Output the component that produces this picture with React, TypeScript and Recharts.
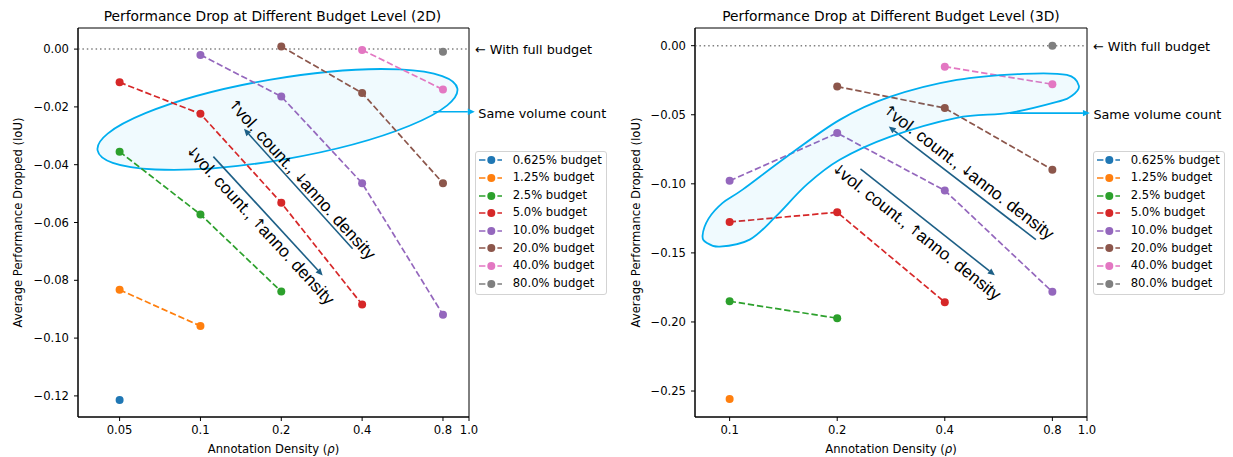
import React from 'react';
import { LineChart, Line, XAxis, YAxis, ReferenceLine, ReferenceArea, Legend } from 'recharts';

const FONT = "'DejaVu Sans', sans-serif";
const NOTE_FONT = "'Liberation Sans', Arial, sans-serif";

// ---------- data ----------
const BUDGET_LABELS = ['0.625% budget', '1.25% budget', '2.5% budget', '5.0% budget', '10.0% budget', '20.0% budget', '40.0% budget', '80.0% budget'];
const BUDGET_COLORS = ['#1f77b4', '#ff7f0e', '#2ca02c', '#d62728', '#9467bd', '#8c564b', '#e377c2', '#7f7f7f'];

const DENSITY_2D = [[0.05], [0.05, 0.1], [0.05, 0.1, 0.2], [0.05, 0.1, 0.2, 0.4], [0.1, 0.2, 0.4, 0.8], [0.2, 0.4, 0.8], [0.4, 0.8], [0.8]];
const DROP_2D = [
  [-0.1214],
  [-0.0833, -0.0958],
  [-0.0355, -0.0572, -0.0839],
  [-0.0115, -0.0224, -0.0532, -0.0884],
  [-0.0020, -0.0164, -0.0464, -0.0919],
  [0.0009, -0.0152, -0.0464],
  [-0.0003, -0.0140],
  [-0.0009],
];

const DENSITY_3D = [[], [0.1], [0.1, 0.2], [0.1, 0.2, 0.4], [0.1, 0.2, 0.4, 0.8], [0.2, 0.4, 0.8], [0.4, 0.8], [0.8]];
const DROP_3D = [
  [],
  [-0.2558],
  [-0.1850, -0.1973],
  [-0.1276, -0.1206, -0.1857],
  [-0.0978, -0.0633, -0.1048, -0.1782],
  [-0.0296, -0.0452, -0.0898],
  [-0.0152, -0.0279],
  [0.0],
];

const X_TICKS_2D = [0.05, 0.1, 0.2, 0.4, 0.8, 1.0];
const X_LABELS_2D = ['0.05', '0.1', '0.2', '0.4', '0.8', '1.0'];
const X_TICKS_3D = [0.1, 0.2, 0.4, 0.8, 1.0];
const X_LABELS_3D = ['0.1', '0.2', '0.4', '0.8', '1.0'];
const Y_TICKS_2D = [0, -0.02, -0.04, -0.06, -0.08, -0.1, -0.12];
const Y_LABELS_2D = ['0.00', '\u22120.02', '\u22120.04', '\u22120.06', '\u22120.08', '\u22120.10', '\u22120.12'];
const Y_TICKS_3D = [0, -0.05, -0.1, -0.15, -0.2, -0.25];
const Y_LABELS_3D = ['0.00', '\u22120.05', '\u22120.10', '\u22120.15', '\u22120.20', '\u22120.25'];

const X_DOMAIN_2D = [0.035, 1.0];
const Y_DOMAIN_2D = [-0.1273, 0.0073];
const X_DOMAIN_3D = [0.08, 1.0];
const Y_DOMAIN_3D = [-0.2688, 0.0128];

const TITLE_2D = 'Performance Drop at Different Budget Level (2D)';
const TITLE_3D = 'Performance Drop at Different Budget Level (3D)';
// annotation text parts: [arrow, words, arrow, words]
const TEXT_UP = ['\u2191', 'vol. count., ', '\u2193', 'anno. density'];
const TEXT_DOWN = ['\u2193', 'vol. count., ', '\u2191', 'anno. density'];

// annotations (data coordinates)
const ELLIPSE_2D = { from: { x: 0.0414, y: -0.03506 }, to: { x: 0.905, y: -0.01364 } };
const ARROWS_2D = [
  { tail: { x: 0.3687, y: -0.0691 }, head: { x: 0.1453, y: -0.0276 }, text: TEXT_UP, offset: 9.5, along: -4 },
  { tail: { x: 0.1117, y: -0.0372 }, head: { x: 0.2852, y: -0.0783 }, text: TEXT_DOWN, offset: -11.5, along: 2 },
];
const SAME_2D = { tail: { x: 0.7356, y: -0.02166 }, head: { x: 1.051, y: -0.02166 } };

const BANANA_X_3D = [0.084, 0.0873, 0.0956, 0.1087, 0.1444, 0.2032, 0.2806, 0.4322, 0.6615, 0.8783, 0.9491, 0.9072, 0.8235, 0.6082, 0.4322, 0.2806, 0.2032, 0.1643, 0.1345, 0.1138, 0.0938, 0.0862];
const BANANA_Y_3D = [-0.1375, -0.1252, -0.1138, -0.1042, -0.0804, -0.0537, -0.0371, -0.0248, -0.0204, -0.0212, -0.0291, -0.0363, -0.0407, -0.0486, -0.0522, -0.066, -0.0826, -0.1006, -0.1238, -0.1404, -0.1455, -0.1426];
const ARROWS_3D = [
  { tail: { x: 0.7194, y: -0.1404 }, head: { x: 0.2788, y: -0.0585 }, text: TEXT_UP, offset: 13, along: -1 },
  { tail: { x: 0.2323, y: -0.0891 }, head: { x: 0.5522, y: -0.1662 }, text: TEXT_DOWN, offset: -14, along: -2 },
];
const SAME_3D = { tail: { x: 0.6083, y: -0.0488 }, head: { x: 1.019, y: -0.0488 } };

// ---------- styles ----------
const CYAN = '#00aeef';
const TEAL = '#1d5f86';
const DASH = '6.4 2.8';

const buildSeries = (xs: number[][], ys: number[][]) =>
  xs.map((row, i) => row.map((x, j) => ({ x, y: ys[i][j] })));

const fmt = (ticks: number[], labels: string[]) => (v: number) => {
  const i = ticks.findIndex((t) => Math.abs(t - v) < 1e-9);
  return i >= 0 ? labels[i] : String(v);
};

function closedSmoothPath(pts: { x: number; y: number }[]) {
  const n = pts.length;
  let d = `M${pts[0].x},${pts[0].y}`;
  for (let i = 0; i < n; i++) {
    const p0 = pts[(i - 1 + n) % n];
    const p1 = pts[i];
    const p2 = pts[(i + 1) % n];
    const p3 = pts[(i + 2) % n];
    const c1x = p1.x + (p2.x - p0.x) / 6;
    const c1y = p1.y + (p2.y - p0.y) / 6;
    const c2x = p2.x - (p3.x - p1.x) / 6;
    const c2y = p2.y - (p3.y - p1.y) / 6;
    d += ` C${c1x},${c1y} ${c2x},${c2y} ${p2.x},${p2.y}`;
  }
  return d + 'Z';
}

const ellipseShape = (minor: number) => (p: any) => {
  const { x1, y1, x2, y2 } = p;
  const cx = (x1 + x2) / 2;
  const cy = (y1 + y2) / 2;
  const rx = Math.hypot(x2 - x1, y2 - y1) / 2;
  const ang = (Math.atan2(y2 - y1, x2 - x1) * 180) / Math.PI;
  return (
    <ellipse cx={cx} cy={cy} rx={rx} ry={minor} transform={`rotate(${ang} ${cx} ${cy})`}
      fill="rgba(0,170,235,0.06)" stroke={CYAN} strokeWidth={1.8} />
  );
};

const ArrowGlyph = ({ ch }: { ch: string }) => (
  <tspan fontFamily={FONT} fontSize={14.5} dx={-1}>{ch}</tspan>
);

const arrowShape = (color: string, text?: string[], offset = 0, along = 0) => (p: any) => {
  const { x1, y1, x2, y2 } = p;
  const dx = x2 - x1;
  const dy = y2 - y1;
  const L = Math.hypot(dx, dy);
  const ux = dx / L;
  const uy = dy / L;
  const hl = 7;
  const hw = 3.2;
  const bx = x2 - ux * hl;
  const by = y2 - uy * hl;
  let label = null;
  if (text) {
    const tx = dx < 0 ? -ux : ux;
    const ty = dx < 0 ? -uy : uy;
    const nx = ty;
    const ny = -tx;
    const mx = (x1 + x2) / 2 + offset * nx + along * tx;
    const my = (y1 + y2) / 2 + offset * ny + along * ty;
    const ang = (Math.atan2(ty, tx) * 180) / Math.PI;
    label = (
      <text x={mx} y={my} textAnchor="middle" dominantBaseline="central" fontFamily={NOTE_FONT}
        fontSize={17.2} fill="#000" transform={`rotate(${ang} ${mx} ${my})`}>
        <ArrowGlyph ch={text[0]} />
        <tspan dx={-1.5}>{text[1]}</tspan>
        <ArrowGlyph ch={text[2]} />
        <tspan dx={-1.5}>{text[3]}</tspan>
      </text>
    );
  }
  return (
    <g>
      <line x1={x1} y1={y1} x2={bx} y2={by} stroke={color} strokeWidth={1.6} />
      <polygon points={`${x2},${y2} ${bx - uy * hw},${by + ux * hw} ${bx + uy * hw},${by - ux * hw}`} fill={color} />
      {label}
    </g>
  );
};

const sameShape = (p: any) => {
  const { x2, y2 } = p;
  return (
    <g>
      {arrowShape(CYAN)(p)}
      <text x={x2 + 3.5} y={y2 + 1.5} dominantBaseline="central" fontFamily={FONT} fontSize={12.8} fill="#000">Same volume count</text>
    </g>
  );
};

const zeroShape = (p: any) => (
  <g>
    <line x1={p.x1} y1={p.y1} x2={p.x2} y2={p.y2} stroke="#808080" strokeWidth={1.5} strokeDasharray="1.5 2.9" />
    <text x={p.x2 + 6} y={p.y1 + 0.5} dominantBaseline="central" fontFamily={FONT} fontSize={12.8} fill="#000">{'\u2190 With full budget'}</text>
  </g>
);

const bananaDot = (p: any) => {
  if (p.index !== 0 || !p.points) return <g key={`b-${p.index}`} />;
  const pts = p.points.map((q: any) => ({ x: q.x, y: q.y }));
  return (
    <path key="banana" d={closedSmoothPath(pts)} fill="rgba(0,170,235,0.06)" stroke={CYAN} strokeWidth={1.8} />
  );
};

const LegendBox = () => (
  <div style={{ boxSizing: 'border-box', width: 132, height: 144, border: '1px solid #d3d3d3', borderRadius: 3, background: 'rgba(255,255,255,0.85)', fontFamily: FONT, fontSize: 11.6, color: '#000' }}>
    {BUDGET_LABELS.map((label, i) => (
      <div key={label} style={{ position: 'relative', height: 17.6 }}>
        <svg width={25} height={10} style={{ position: 'absolute', left: 3.7, top: 3.8 }}>
          <line x1={0} y1={5} x2={23} y2={5} stroke={BUDGET_COLORS[i]} strokeWidth={1.7} strokeDasharray={DASH} />
          <circle cx={12.3} cy={5} r={4} fill={BUDGET_COLORS[i]} />
        </svg>
        <span style={{ position: 'absolute', left: 37, top: 0, lineHeight: '17.6px', whiteSpace: 'nowrap' }}>{label}</span>
      </div>
    ))}
  </div>
);

type PanelProps = {
  width: number;
  yAxisWidth: number;
  yLabelX: number;
  xDomain: number[];
  yDomain: number[];
  xTicks: number[];
  xLabels: string[];
  yTicks: number[];
  yLabels: string[];
  series: { x: number; y: number }[][];
  arrows: typeof ARROWS_2D;
  same: typeof SAME_2D;
  ellipse?: typeof ELLIPSE_2D;
  banana?: { x: number; y: number }[];
};

function Panel(props: PanelProps) {
  const { width, yAxisWidth, yLabelX, xDomain, yDomain, xTicks, xLabels, yTicks, yLabels, series, arrows, same, ellipse, banana } = props;
  const tickStyle = { fontSize: 11.6, fill: '#000', fontFamily: FONT };
  return (
    <LineChart width={width} height={457} margin={{ top: 28, right: 146, bottom: 0, left: 0 }}>
      <XAxis
        type="number" dataKey="x" scale="log" domain={xDomain} allowDataOverflow ticks={xTicks} interval={0}
        tickFormatter={fmt(xTicks, xLabels)} tick={tickStyle} tickLine={{ stroke: '#000' }} axisLine={{ stroke: '#000' }}
        tickSize={4} tickMargin={5} height={40}
        label={(lp: any) => {
          const vb = lp && lp.viewBox ? lp.viewBox : { x: yAxisWidth, width: width - 146 - yAxisWidth, y: 417 };
          return (
            <text x={vb.x + vb.width / 2} y={453} textAnchor="middle" fontFamily={FONT} fontSize={11.6} fill="#000">
              Annotation Density (<tspan fontStyle="italic">{'\u03c1'}</tspan>)
            </text>
          );
        }}
      />
      <YAxis
        type="number" domain={yDomain} allowDataOverflow ticks={yTicks} interval={0}
        tickFormatter={fmt(yTicks, yLabels)} tick={tickStyle} tickLine={{ stroke: '#000' }} axisLine={{ stroke: '#000' }}
        tickSize={4} tickMargin={5} width={yAxisWidth}
        label={() => (
          <text x={yLabelX} y={222.5} textAnchor="middle" dominantBaseline="central" fontFamily={FONT} fontSize={11.6} fill="#000"
            transform={`rotate(-90 ${yLabelX} 222.5)`}>Average Performance Dropped (IoU)</text>
        )}
      />
      <ReferenceArea x1={xDomain[0]} x2={xDomain[1]} y1={yDomain[0]} y2={yDomain[1]} fill="none" fillOpacity={0} stroke="#000" strokeWidth={1} ifOverflow="visible" />
      <ReferenceLine y={0} ifOverflow="visible" shape={zeroShape} />
      {banana && (
        <Line data={banana} dataKey="y" stroke="none" dot={bananaDot} activeDot={false} legendType="none" isAnimationActive={false} />
      )}
      {ellipse && (
        <ReferenceLine segment={[ellipse.from, ellipse.to]} ifOverflow="visible" shape={ellipseShape(40.4)} />
      )}
      {series.map((pts, i) =>
        pts.length ? (
          <Line key={BUDGET_LABELS[i]} data={pts} dataKey="y" name={BUDGET_LABELS[i]} stroke={BUDGET_COLORS[i]}
            strokeWidth={1.7} strokeDasharray={DASH} dot={{ r: 4, fill: BUDGET_COLORS[i], stroke: BUDGET_COLORS[i], strokeWidth: 0, strokeDasharray: '' }}
            activeDot={false} isAnimationActive={false} legendType="none" />
        ) : null
      )}
      {arrows.map((a, i) => (
        <ReferenceLine key={`arrow-${i}`} segment={[a.tail, a.head]} ifOverflow="visible" shape={arrowShape(TEAL, a.text, a.offset, a.along)} />
      ))}
      <ReferenceLine segment={[same.tail, same.head]} ifOverflow="visible" shape={sameShape} />
      <Legend layout="vertical" align="center" verticalAlign="middle" content={() => <LegendBox />}
        wrapperStyle={{ left: width - 146 + 5.7, top: 150.7, width: 132, height: 144 }} />
    </LineChart>
  );
}

const titleStyle = (center: number): React.CSSProperties => ({
  position: 'absolute', left: center - 250, width: 500, top: 6, textAlign: 'center',
  fontFamily: FONT, fontSize: 13.8, lineHeight: '20px', color: '#000', whiteSpace: 'nowrap',
});

export default function App() {
  const series2D = buildSeries(DENSITY_2D, DROP_2D);
  const series3D = buildSeries(DENSITY_3D, DROP_3D);
  const banana = BANANA_X_3D.map((x, i) => ({ x, y: BANANA_Y_3D[i] }));
  return (
    <div style={{ position: 'absolute', left: 0, top: 0, width: 1233, height: 457, background: '#fff', overflow: 'hidden' }}>
      <div style={titleStyle(272.5)}>{TITLE_2D}</div>
      <div style={titleStyle(891)}>{TITLE_3D}</div>
      <div style={{ position: 'absolute', left: 0, top: 0 }}>
        <Panel width={615} yAxisWidth={78} yLabelX={18} xDomain={X_DOMAIN_2D} yDomain={Y_DOMAIN_2D}
          xTicks={X_TICKS_2D} xLabels={X_LABELS_2D} yTicks={Y_TICKS_2D} yLabels={Y_LABELS_2D}
          series={series2D} arrows={ARROWS_2D} same={SAME_2D} ellipse={ELLIPSE_2D} />
      </div>
      <div style={{ position: 'absolute', left: 615, top: 0 }}>
        <Panel width={618} yAxisWidth={80} yLabelX={21} xDomain={X_DOMAIN_3D} yDomain={Y_DOMAIN_3D}
          xTicks={X_TICKS_3D} xLabels={X_LABELS_3D} yTicks={Y_TICKS_3D} yLabels={Y_LABELS_3D}
          series={series3D} arrows={ARROWS_3D} same={SAME_3D} banana={banana} />
      </div>
    </div>
  );
}
